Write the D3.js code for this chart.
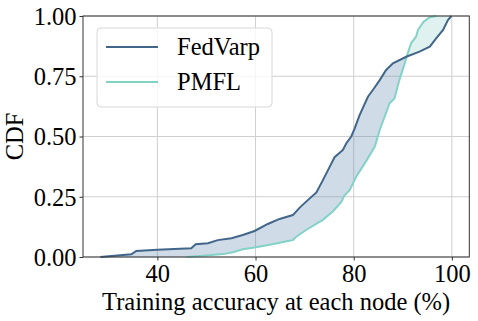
<!DOCTYPE html>
<html>
<head>
<meta charset="utf-8">
<script src="https://cdn.jsdelivr.net/npm/d3@7"></script>
<style>
body { margin: 0; background: #fff; }
</style>
</head>
<body>
<div id="chart"></div>
<script>
// CDF points (accuracy %, cumulative fraction)
var fedAcc = [28.4, 34.7, 35.7, 40, 46.9, 47.8, 50.3, 52.3, 55.1, 57.4, 59.8, 62.5, 64.9, 67.6, 69, 70.7, 72.4, 73.7, 75, 76.1, 77.8, 78.5, 79.5, 80.2, 81.2, 82.9, 83.9, 85.3, 86.6, 88, 90.7, 93.4, 95.5, 96.8, 98.2, 99.2, 99.9];
var fedCdf = [0, 0.011, 0.025, 0.03, 0.036, 0.053, 0.057, 0.07, 0.078, 0.091, 0.108, 0.137, 0.158, 0.174, 0.205, 0.237, 0.268, 0.318, 0.37, 0.414, 0.444, 0.472, 0.5, 0.534, 0.589, 0.665, 0.693, 0.734, 0.776, 0.804, 0.831, 0.852, 0.873, 0.907, 0.942, 0.983, 1.0];
var pmAcc = [46, 53.4, 55.4, 57.4, 59.8, 63.7, 66.6, 67.6, 68.3, 70.3, 73.7, 75.8, 77.5, 78.1, 79.2, 80.5, 82.6, 84.3, 85.3, 87.3, 88.3, 89.3, 90.4, 91, 91.7, 92.7, 93.1, 94.2, 95.5, 96.8];
var pmCdf = [0, 0.012, 0.02, 0.032, 0.039, 0.054, 0.066, 0.07, 0.084, 0.112, 0.154, 0.19, 0.23, 0.255, 0.278, 0.333, 0.4, 0.458, 0.527, 0.638, 0.658, 0.734, 0.804, 0.845, 0.887, 0.914, 0.942, 0.975, 0.995, 1.0];
var seriesNames = ["FedVarp", "PMFL"];
var xTicks = [40, 60, 80, 100];
var yTicks = [0, 0.25, 0.5, 0.75, 1];
var colours = ["#42668a", "#82d2c8"];
var fills = ["#5f8ab2", "#98d4ca"];

var serif = "'Liberation Serif'";
var fontSize = "24.5px";
var margin = { top: 16, right: 8.7, bottom: 64, left: 83 };
var width = 478, height = 321;
var w = width - margin.left - margin.right;
var h = height - margin.top - margin.bottom;

var svg = d3.select("#chart")
    .append("svg")
    .attr("width", width)
    .attr("height", height);

var g = svg.append("g")
    .attr("transform", "translate(" + margin.left + "," + margin.top + ")");

var xScale = d3.scaleLinear().domain([24.85, 103.55]).range([0, w]);
var yScale = d3.scaleLinear().domain([0, 1]).range([h, 0]);

// grid
g.selectAll(".vgrid").data(xTicks).enter().append("line")
    .attr("x1", function(d){ return xScale(d); }).attr("x2", function(d){ return xScale(d); })
    .attr("y1", 0).attr("y2", h)
    .style("stroke", "#cfcfcf").style("stroke-width", 1);
g.selectAll(".hgrid").data(yTicks).enter().append("line")
    .attr("x1", 0).attr("x2", w)
    .attr("y1", function(d){ return yScale(d); }).attr("y2", function(d){ return yScale(d); })
    .style("stroke", "#cfcfcf").style("stroke-width", 1);

// fill between the two curves, sampled along the cdf axis
var fedAt = d3.scaleLinear().domain(fedCdf).range(fedAcc);
var pmAt = d3.scaleLinear().domain(pmCdf).range(pmAcc);
var samples = d3.range(0, 1.0001, 0.002).map(function(c){
    c = Math.min(c, 1);
    return { c: c, f: fedAt(c), p: pmAt(c) };
});

g.append("path").datum(samples)
    .attr("d", d3.area()
        .y(function(d){ return yScale(d.c); })
        .x0(function(d){ return xScale(d.f); })
        .x1(function(d){ return xScale(Math.max(d.f, d.p)); }))
    .style("fill", fills[0]).style("fill-opacity", 0.3);
g.append("path").datum(samples)
    .attr("d", d3.area()
        .y(function(d){ return yScale(d.c); })
        .x0(function(d){ return xScale(d.p); })
        .x1(function(d){ return xScale(Math.max(d.f, d.p)); }))
    .style("fill", fills[1]).style("fill-opacity", 0.3);

var line = d3.line()
    .x(function(d){ return xScale(d[0]); })
    .y(function(d){ return yScale(d[1]); });

g.append("path").datum(d3.zip(pmAcc, pmCdf))
    .attr("d", line)
    .style("fill", "none").style("stroke", colours[1]).style("stroke-width", 2);
g.append("path").datum(d3.zip(fedAcc, fedCdf))
    .attr("d", line)
    .style("fill", "none").style("stroke", colours[0]).style("stroke-width", 2);

// spines
g.append("rect")
    .attr("x", 0).attr("y", 0).attr("width", w).attr("height", h)
    .style("fill", "none").style("stroke", "#333").style("stroke-width", 1);

// axes
var xAxis = g.append("g")
    .attr("transform", "translate(0," + h + ")")
    .call(d3.axisBottom(xScale).tickValues(xTicks).tickSize(3.5).tickPadding(4).tickFormat(d3.format("d")));
var yAxis = g.append("g")
    .call(d3.axisLeft(yScale).tickValues(yTicks).tickSize(3.5).tickPadding(3).tickFormat(d3.format(".2f")));
[xAxis, yAxis].forEach(function(a){
    a.select(".domain").remove();
    a.selectAll("line").style("stroke", "#333");
    a.selectAll("text")
        .style("font-family", serif).style("font-size", fontSize).style("fill", "#000");
});
yAxis.selectAll("text").attr("dy", "0.34em");

svg.append("text")
    .attr("x", margin.left + w / 2)
    .attr("y", 310)
    .attr("text-anchor", "middle")
    .style("font-family", serif).style("font-size", fontSize)
    .text("Training accuracy at each node (%)");

svg.append("text")
    .attr("transform", "translate(23," + (margin.top + h / 2) + ") rotate(-90)")
    .attr("text-anchor", "middle")
    .style("font-family", serif).style("font-size", fontSize)
    .text("CDF");

// legend
var legend = svg.append("g").attr("transform", "translate(97,28)");
legend.append("rect")
    .attr("width", 175).attr("height", 79).attr("rx", 4).attr("ry", 4)
    .style("fill", "#fff").style("fill-opacity", 0.8)
    .style("stroke", "#d8d8d8").style("stroke-width", 1);
var items = legend.selectAll(".item").data(seriesNames).enter().append("g")
    .attr("transform", function(d, i){ return "translate(0," + (19 + i * 35) + ")"; });
items.append("line")
    .attr("x1", 9).attr("x2", 61)
    .style("stroke", function(d, i){ return colours[i]; })
    .style("stroke-width", 2);
items.append("text")
    .attr("x", 80).attr("dy", "0.34em")
    .style("font-family", serif).style("font-size", fontSize)
    .text(function(d){ return d; });
</script>
</body>
</html>
